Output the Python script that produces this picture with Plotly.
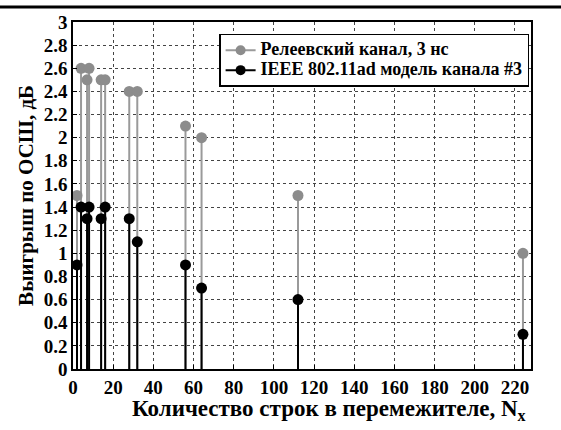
import plotly.graph_objects as go

rows = [2, 4, 7, 8, 14, 16, 28, 32, 56, 64, 112, 224]
rayleigh = [1.5, 2.6, 2.5, 2.6, 2.5, 2.5, 2.4, 2.4, 2.1, 2.0, 1.5, 1.0]
ieee = [0.9, 1.4, 1.3, 1.4, 1.3, 1.4, 1.3, 1.1, 0.9, 0.7, 0.6, 0.3]
names = ["Релеевский канал, 3 нс", "IEEE 802.11ad модель канала #3"]
xticks = list(range(0, 221, 20))
yticks = [round(0.2 * i, 1) for i in range(16)]
xtitle = "Количество строк в перемежителе, N<sub>x</sub>"
ytitle = "Выигрыш по ОСШ, дБ"

GRAY_LINE = "#9a9a9a"
GRAY_MARK = "#8c8c8c"
BLACK = "#000000"
FONT = "Liberation Serif"


def stems(xs, ys):
    sx, sy = [], []
    for a, b in zip(xs, ys):
        sx += [a, a, None]
        sy += [0, b, None]
    return sx, sy


fig = go.Figure()
for vals, lc in [(rayleigh, GRAY_LINE), (ieee, BLACK)]:
    sx, sy = stems(rows, vals)
    fig.add_trace(go.Scatter(x=sx, y=sy, mode="lines", line=dict(color=lc, width=2),
                             showlegend=False, hoverinfo="skip", cliponaxis=False))
for vals, mc in [(rayleigh, GRAY_MARK), (ieee, BLACK)]:
    fig.add_trace(go.Scatter(x=rows, y=vals, mode="markers",
                             marker=dict(color=mc, size=11), showlegend=False,
                             cliponaxis=False))
for nm, lc, mc in [(names[0], GRAY_LINE, GRAY_MARK), (names[1], BLACK, BLACK)]:
    fig.add_trace(go.Scatter(x=[None], y=[None], mode="lines+markers",
                             name=f'<span style="font-size:18px">{nm}</span>',
                             line=dict(color=lc, width=2), marker=dict(color=mc, size=10)))

axis_common = dict(
    showline=True, linecolor="black", linewidth=1.5, mirror=True,
    showgrid=True, gridcolor="#444444", gridwidth=1, griddash="dot",
    ticks="inside", ticklen=4, tickcolor="black", zeroline=False,
    tickfont=dict(family=FONT, size=19, color="black", weight="bold"),
)

fig.update_xaxes(range=[0, 228], tickvals=xticks, ticktext=[str(v) for v in xticks],
                 **axis_common)
fig.update_yaxes(range=[0, 3], tickvals=yticks, ticktext=[f"{v:g}" for v in yticks],
                 title=dict(text=ytitle,
                            font=dict(family=FONT, size=21, color="black", weight="bold"),
                            standoff=4),
                 **axis_common)

fig.update_layout(
    width=561, height=430,
    margin=dict(l=73, r=30, t=20, b=61),
    plot_bgcolor="white", paper_bgcolor="white",
    legend=dict(x=0.319, y=0.966, xanchor="left", yanchor="top",
                bgcolor="white", bordercolor="black", borderwidth=1.5,
                font=dict(family=FONT, size=13, color="black", weight="bold"),
                tracegroupgap=0, itemwidth=30),
    shapes=[dict(type="line", xref="paper", yref="paper",
                 x0=-0.2, x1=1.2, y0=1.043, y1=1.043,
                 line=dict(color="black", width=3))],
    annotations=[dict(text=xtitle, xref="paper", yref="paper", x=0.559, y=-0.117,
                      xanchor="center", yanchor="middle", showarrow=False,
                      font=dict(family=FONT, size=23, color="black", weight="bold"))],
)

fig.write_html("out.html", config={"displayModeBar": False},
               post_script="document.body.style.margin='0';")
